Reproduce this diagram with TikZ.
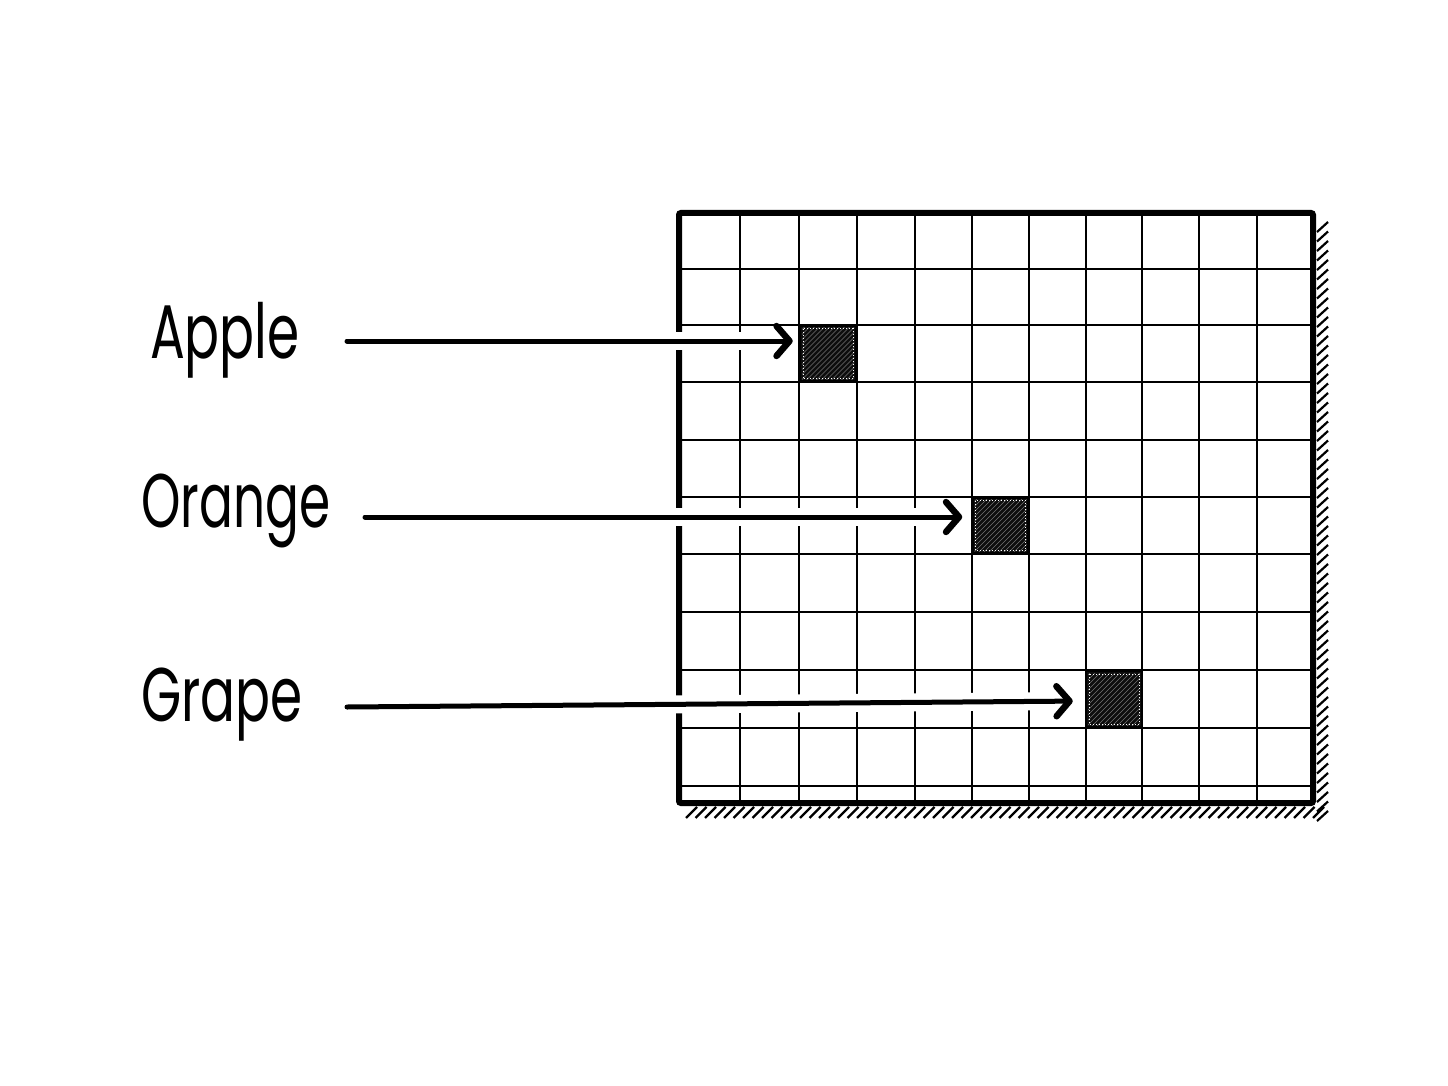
\documentclass[tikz,border=0pt]{standalone}
\usepackage{fontspec}
\setmainfont{Poppins}
\usetikzlibrary{arrows.meta}
\begin{document}
\begin{tikzpicture}[x=1pt,y=-1pt,
  gridline/.style={line width=2.6pt},
  gridframe/.style={line width=6pt, rounded corners=2pt},
  hatchline/.style={line width=2.2pt},
  arr/.style={line width=5pt, line cap=round, -{Straight Barb[length=13pt,width=30pt,line width=6.5pt,round]}},
  halo/.style={line width=18pt, white},
  fruit/.style={font=\fontsize{76}{86}\selectfont, anchor=base west, inner sep=0pt, xscale=0.68},
  cellbox/.style={draw=black, line width=2.5pt, fill=black!95, minimum width=56pt, minimum height=56pt, inner sep=0pt}
]
\useasboundingbox (0,0) rectangle (1448,1086);
\fill[white] (0,0) rectangle (1448,1086);

% grid
\foreach \xx in {740,799,857,915,972,1029,1086,1142,1199,1257}
  \draw[gridline] (\xx,213) -- (\xx,803);
\foreach \yy in {269,325,382,440,497,554,612,670,728,786}
  \draw[gridline] (679,\yy) -- (1313,\yy);
\draw[gridframe] (679,213) rectangle (1313,803);

% shadow hatching
\foreach \yy in {222,231.5,...,812}
  \draw[hatchline] (1317,\yy+10) -- (1328,\yy);
\foreach \xx in {686,695.5,...,1316}
  \draw[hatchline] (\xx,818) -- (\xx+11,807);

% marked cells
\foreach \n/\cx/\cy in {cA/828/353.5, cO/1000.5/525.5, cG/1114/699} {
  \node[cellbox] (\n) at (\cx,\cy) {};
  \begin{scope}
    \clip (\cx-26,\cy-26) rectangle (\cx+26,\cy+26);
    \foreach \k in {-60,-55,...,60}
      \draw[black!55, line width=0.5pt] (\cx+\k-30,\cy+30) -- (\cx+\k+30,\cy-30);
  \end{scope}
  \draw[white, dotted, line width=1pt] (\cx-25,\cy-25) rectangle (\cx+25,\cy+25);
}

% labels
\node[fruit] (apple) at (150,358) {Apple};
\node[fruit, xscale=0.97] (orange) at (141,527) {Orange};
\node[fruit] (grape) at (141,721) {Grape};

% arrows
\coordinate (aS) at (347,341);
\coordinate (oS) at (365,517);
\coordinate (gS) at (347,707);
\draw[halo, shorten >=20pt] (aS) -- (cA.west |- aS);
\draw[arr, shorten >=6pt] (aS) -- (cA.west |- aS);
\draw[halo, shorten >=22pt] (oS) -- (cO.west |- oS);
\draw[arr, shorten >=9pt] (oS) -- (cO.west |- oS);
\draw[halo, shorten >=26pt] (gS) -- ([yshift=-2pt]cG.west);
\draw[arr, shorten >=12pt] (gS) -- ([yshift=-2pt]cG.west);
\end{tikzpicture}
\end{document}
